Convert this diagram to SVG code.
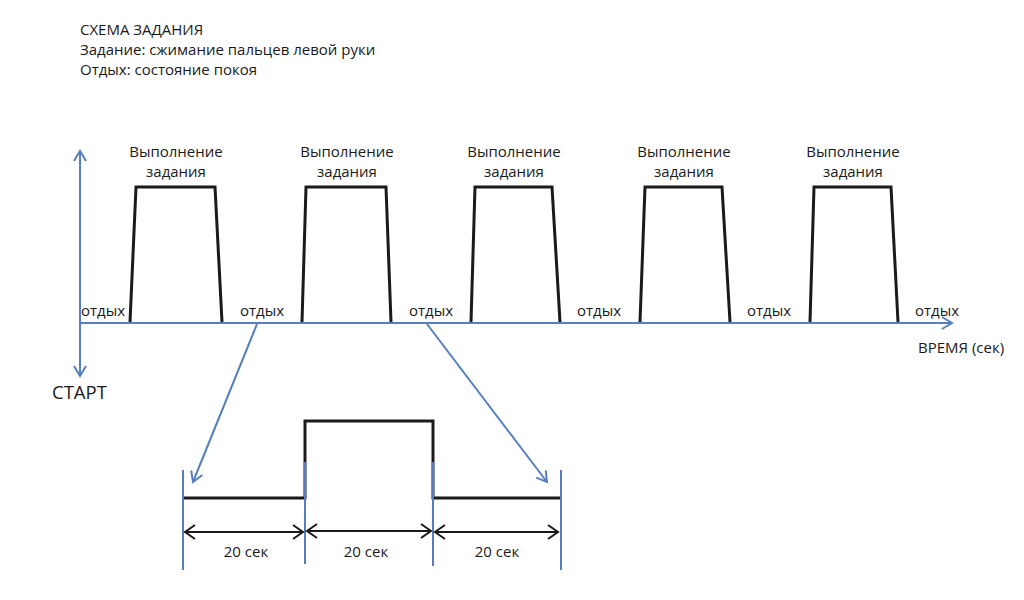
<svg xmlns="http://www.w3.org/2000/svg" width="1024" height="600" viewBox="0 0 1024 600">
<style>
text{font-family:"Open Sans","Liberation Sans",sans-serif;fill:#1a1a1a}
.t{font-size:15px}
.lbl{font-size:15px;text-anchor:middle}
.blue{stroke:#5580bd;stroke-width:2;fill:none}
.blk{stroke:#1a1a1a;stroke-width:3;fill:none;stroke-linejoin:miter}
.dim{stroke:#1a1a1a;stroke-width:2;fill:none}
</style>
<defs>
<marker id="ab" markerWidth="14" markerHeight="14" refX="12" refY="7" orient="auto" markerUnits="userSpaceOnUse">
<path d="M2,1 L12,7 L2,13" fill="none" stroke="#5580bd" stroke-width="2"/>
</marker>
<marker id="ak" markerWidth="14" markerHeight="16" refX="12" refY="8" orient="auto-start-reverse" markerUnits="userSpaceOnUse">
<path d="M2,1 L12,8 L2,15" fill="none" stroke="#1a1a1a" stroke-width="2"/>
</marker>
</defs>
<rect width="1024" height="600" fill="#fff"/>
<g id="header">
<text class="t" x="80" y="35">СХЕМА ЗАДАНИЯ</text>
<text class="t" x="80" y="55">Задание: сжимание пальцев левой руки</text>
<text class="t" x="80" y="75">Отдых: состояние покоя</text>
</g>
<g id="pulses">
<path class="blk" d="M130,322 L136,187 L215,187 L222,322"/>
<path class="blk" d="M302,322 L306,187 L386,187 L391,322"/>
<path class="blk" d="M471,322 L475,187 L552,187 L560,322"/>
<path class="blk" d="M640,322 L645,187 L722,187 L730,322"/>
<path class="blk" d="M810,322 L814,187 L891,187 L898,322"/>
</g>
<g id="labels">
<text class="lbl" x="176" y="157">Выполнение</text><text class="lbl" x="176" y="177">задания</text>
<text class="lbl" x="347" y="157">Выполнение</text><text class="lbl" x="347" y="177">задания</text>
<text class="lbl" x="514" y="157">Выполнение</text><text class="lbl" x="514" y="177">задания</text>
<text class="lbl" x="684" y="157">Выполнение</text><text class="lbl" x="684" y="177">задания</text>
<text class="lbl" x="853" y="157">Выполнение</text><text class="lbl" x="853" y="177">задания</text>
<text class="lbl" x="103" y="316">отдых</text>
<text class="lbl" x="262" y="316">отдых</text>
<text class="lbl" x="431" y="316">отдых</text>
<text class="lbl" x="599" y="316">отдых</text>
<text class="lbl" x="769" y="316">отдых</text>
<text class="lbl" x="937" y="316">отдых</text>
<text class="t" x="918" y="353">ВРЕМЯ (сек)</text>
<text x="52" y="399" style="font-size:18.5px">СТАРТ</text>
</g>
<g id="connectors">
<line class="blue" x1="80" y1="323" x2="952" y2="323" marker-end="url(#ab)"/>
<line class="blue" x1="80" y1="323" x2="80" y2="151" marker-end="url(#ab)"/>
<line class="blue" x1="80" y1="323" x2="80" y2="376" marker-end="url(#ab)"/>
<line class="blue" x1="257" y1="324" x2="193" y2="482" marker-end="url(#ab)"/>
<line class="blue" x1="427" y1="324" x2="547" y2="482" marker-end="url(#ab)"/>
</g>
<g id="detail">
<path class="blk" d="M183,498 L305,498 L305,421 L433,421 L433,498 L561,498"/>
<line class="blue" x1="183" y1="470" x2="183" y2="570"/>
<line class="blue" x1="305" y1="462" x2="305" y2="564"/>
<line class="blue" x1="433" y1="462" x2="433" y2="566"/>
<line class="blue" x1="561" y1="470" x2="561" y2="570"/>
<line class="dim" x1="185" y1="532" x2="303" y2="532" marker-start="url(#ak)" marker-end="url(#ak)"/>
<line class="dim" x1="307" y1="531" x2="431" y2="531" marker-start="url(#ak)" marker-end="url(#ak)"/>
<line class="dim" x1="435" y1="532" x2="558" y2="532" marker-start="url(#ak)" marker-end="url(#ak)"/>
<text class="lbl" x="246" y="557">20 сек</text>
<text class="lbl" x="366" y="557">20 сек</text>
<text class="lbl" x="497" y="557">20 сек</text>
</g>
</svg>
